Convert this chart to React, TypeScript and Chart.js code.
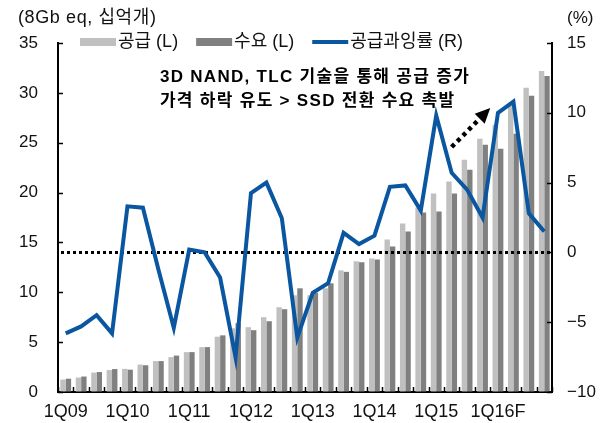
import { useEffect, useRef } from 'react';
import { Chart, registerables } from 'chart.js';

Chart.register(...registerables);

const quarters = [
  '1Q09', '2Q09', '3Q09', '4Q09',
  '1Q10', '2Q10', '3Q10', '4Q10',
  '1Q11', '2Q11', '3Q11', '4Q11',
  '1Q12', '2Q12', '3Q12', '4Q12',
  '1Q13', '2Q13', '3Q13', '4Q13',
  '1Q14', '2Q14', '3Q14', '4Q14',
  '1Q15', '2Q15', '3Q15', '4Q15',
  '1Q16F', '2Q16F', '3Q16F', '4Q16F',
];

// 공급 (L), 8Gb eq 십억개
const supply = [
  1.25, 1.45, 1.95, 2.2, 2.32, 2.75, 3.1, 3.5,
  4.0, 4.5, 5.55, 6.4, 6.5, 7.5, 8.5, 9.7,
  9.7, 10.4, 12.2, 13.1, 13.4, 15.3, 16.9, 18.5,
  19.9, 21.1, 23.3, 25.4, 26.8, 29.0, 30.5, 32.2,
];

// 수요 (L)
const demand = [
  1.33, 1.55, 2.0, 2.3, 2.24, 2.68, 3.1, 3.65,
  4.0, 4.5, 5.68, 6.9, 6.2, 7.1, 8.3, 10.4,
  9.95, 10.9, 12.05, 13.0, 13.3, 14.6, 16.1, 18.0,
  18.1, 19.9, 22.3, 24.8, 24.4, 25.9, 29.7, 31.7,
];

// 공급과잉률 (R), %
const oversupply = [
  -5.8, -5.3, -4.5, -5.8, 3.3, 3.2, -1.2, -5.4,
  0.2, 0.0, -1.8, -7.5, 4.25, 5.0, 2.45, -6.1,
  -2.9, -2.2, 1.4, 0.6, 1.2, 4.7, 4.8, 3.0,
  9.8, 5.7, 4.5, 2.5, 10.0, 10.8, 2.8, 1.5,
];

const leftAxis = { min: 0, max: 35, step: 5 };
const rightAxis = { min: -10, max: 15, step: 5 };

const legendLabels = ['공급 (L)', '수요 (L)', '공급과잉률 (R)'];
const leftUnit = '(8Gb eq, 십억개)';
const rightUnit = '(%)';
const noteLines = ['3D NAND, TLC 기술을 통해 공급 증가', '가격 하락 유도 > SSD 전환 수요 촉발'];
// arrow anchor in data space: [category index, right-axis value]
const arrowFrom = [25.0, 7.55];
const arrowTo = [27.5, 10.34];

const FONT = '"Liberation Sans", "Noto Sans CJK KR", sans-serif';
const LIGHT = '#c0c0c0';
const DARK = '#808080';
const BLUE = '#0b56a0';
const TEXT = '#111111';

const decorPlugin = {
  id: 'decor',
  beforeDatasetDraw(chart: any, args: any) {
    if (args.index !== 2) return;
    const { ctx, chartArea } = chart;
    const y0 = chart.scales.yR.getPixelForValue(0);
    ctx.save();
    ctx.strokeStyle = '#000';
    ctx.lineWidth = 3;
    ctx.setLineDash([3, 3]);
    ctx.beginPath();
    ctx.moveTo(chartArea.left + 3, y0);
    ctx.lineTo(chartArea.right - 2, y0);
    ctx.stroke();
    ctx.restore();
  },
  afterDraw(chart: any) {
    const { ctx, chartArea } = chart;
    const { left, right, top, bottom } = chartArea;
    const xs = chart.scales.x;
    const yL = chart.scales.yL;
    const yR = chart.scales.yR;
    ctx.save();
    // inward tick marks
    ctx.strokeStyle = '#000';
    ctx.lineWidth = 1.5;
    ctx.beginPath();
    yL.ticks.forEach((_: any, i: number) => {
      const y = Math.round(yL.getPixelForTick(i)) + 0.5;
      ctx.moveTo(left, y);
      ctx.lineTo(left + 5, y);
    });
    yR.ticks.forEach((_: any, i: number) => {
      const y = Math.round(yR.getPixelForTick(i)) + 0.5;
      ctx.moveTo(right, y);
      ctx.lineTo(right - 5, y);
    });
    const step = xs.getPixelForValue(1) - xs.getPixelForValue(0);
    for (let i = 0; i <= quarters.length; i++) {
      const bx = Math.round(xs.getPixelForValue(i) - step / 2) + 0.5;
      ctx.moveTo(bx, bottom);
      ctx.lineTo(bx, bottom - 5);
    }
    ctx.stroke();

    // unit labels
    ctx.fillStyle = TEXT;
    ctx.textBaseline = 'middle';
    ctx.textAlign = 'left';
    ctx.font = `18px ${FONT}`;
    (ctx as any).letterSpacing = '0.6px';
    ctx.fillText(leftUnit, 18, 18);
    (ctx as any).letterSpacing = '0px';
    ctx.font = `17px ${FONT}`;
    ctx.fillText(rightUnit, right + 15, 18);

    // legend
    ctx.font = `18px ${FONT}`;
    const ly = top - 1;
    let lx = left + 22;
    const items = [
      { type: 'box', color: LIGHT },
      { type: 'box', color: DARK },
      { type: 'line', color: BLUE },
    ];
    items.forEach((it, i) => {
      if (it.type === 'box') {
        ctx.fillStyle = it.color;
        ctx.fillRect(lx, ly - 4, 36, 8);
      } else {
        ctx.strokeStyle = it.color;
        ctx.lineWidth = 4;
        ctx.beginPath();
        ctx.moveTo(lx, ly);
        ctx.lineTo(lx + 36, ly);
        ctx.stroke();
      }
      lx += 38;
      ctx.fillStyle = TEXT;
      ctx.fillText(legendLabels[i], lx, ly);
      lx += ctx.measureText(legendLabels[i]).width + 18;
    });

    // annotation text
    ctx.font = `bold 17px ${FONT}`;
    (ctx as any).letterSpacing = '1.3px';
    ctx.fillStyle = '#000';
    const tx = xs.getPixelForValue(6.1);
    ctx.fillText(noteLines[0], tx, top + 34);
    ctx.fillText(noteLines[1], tx, top + 58);
    (ctx as any).letterSpacing = '0px';

    // dotted arrow
    const x1 = xs.getPixelForValue(arrowFrom[0]);
    const y1 = yR.getPixelForValue(arrowFrom[1]);
    const x2 = xs.getPixelForValue(arrowTo[0]);
    const y2 = yR.getPixelForValue(arrowTo[1]);
    const ang = Math.atan2(y2 - y1, x2 - x1);
    const head = 15;
    const bx2 = x2 - Math.cos(ang) * head;
    const by2 = y2 - Math.sin(ang) * head;
    ctx.strokeStyle = '#000';
    ctx.lineWidth = 4.5;
    ctx.setLineDash([4, 4]);
    ctx.beginPath();
    ctx.moveTo(x1, y1);
    ctx.lineTo(bx2, by2);
    ctx.stroke();
    ctx.setLineDash([]);
    ctx.fillStyle = '#000';
    ctx.beginPath();
    ctx.moveTo(x2, y2);
    ctx.lineTo(bx2 + Math.cos(ang + Math.PI / 2) * 7, by2 + Math.sin(ang + Math.PI / 2) * 7);
    ctx.lineTo(bx2 + Math.cos(ang - Math.PI / 2) * 7, by2 + Math.sin(ang - Math.PI / 2) * 7);
    ctx.closePath();
    ctx.fill();
    ctx.restore();
  },
};

export default function App() {
  const ref = useRef<HTMLCanvasElement | null>(null);

  useEffect(() => {
    if (!ref.current) return;
    const minusFmt = (v: any) => String(v).replace('-', '−');
    const chart = new Chart(ref.current, {
      type: 'bar',
      data: {
        labels: quarters,
        datasets: [
          {
            type: 'bar',
            label: legendLabels[0],
            data: supply,
            backgroundColor: LIGHT,
            yAxisID: 'yL',
            categoryPercentage: 0.7,
            barPercentage: 1.0,
            order: 1,
          },
          {
            type: 'bar',
            label: legendLabels[1],
            data: demand,
            backgroundColor: DARK,
            yAxisID: 'yL',
            categoryPercentage: 0.7,
            barPercentage: 1.0,
            order: 1,
          },
          {
            type: 'line',
            label: legendLabels[2],
            data: oversupply,
            borderColor: BLUE,
            borderWidth: 4,
            pointRadius: 0,
            tension: 0,
            yAxisID: 'yR',
            order: 0,
          } as any,
        ],
      },
      plugins: [decorPlugin],
      options: {
        responsive: true,
        maintainAspectRatio: false,
        animation: false,
        events: [],
        layout: { padding: { top: 43, left: 0, right: 0, bottom: 0 } },
        plugins: {
          legend: { display: false },
          tooltip: { enabled: false },
          title: { display: false },
        },
        scales: {
          x: {
            grid: { display: true, drawOnChartArea: false, drawTicks: false },
            border: { display: true, color: '#000', width: 2 },
            ticks: {
              autoSkip: false,
              maxRotation: 0,
              padding: 9,
              color: TEXT,
              font: { family: FONT, size: 18 },
              callback: (_v: any, i: number) => (i % 4 === 0 ? quarters[i] : ''),
            },
            afterFit: (s: any) => { s.height = 31; },
          },
          yL: {
            position: 'left',
            min: leftAxis.min,
            max: leftAxis.max,
            grid: { display: true, drawOnChartArea: false, drawTicks: false },
            border: { display: true, color: '#000', width: 2 },
            ticks: {
              stepSize: leftAxis.step,
              padding: 20,
              color: TEXT,
              font: { family: FONT, size: 17 },
            },
            afterFit: (s: any) => { s.width = 58; },
          },
          yR: {
            position: 'right',
            min: rightAxis.min,
            max: rightAxis.max,
            grid: { display: true, drawOnChartArea: false, drawTicks: false },
            border: { display: true, color: '#000', width: 2 },
            ticks: {
              stepSize: rightAxis.step,
              padding: 15,
              color: TEXT,
              font: { family: FONT, size: 17 },
              callback: minusFmt,
            },
            afterFit: (s: any) => { s.width = 58; },
          },
        },
      },
    });
    return () => chart.destroy();
  }, []);

  return (
    <div style={{ position: 'fixed', left: 0, top: 0, width: 610, height: 423, background: '#fff' }}>
      <canvas ref={ref} />
    </div>
  );
}
